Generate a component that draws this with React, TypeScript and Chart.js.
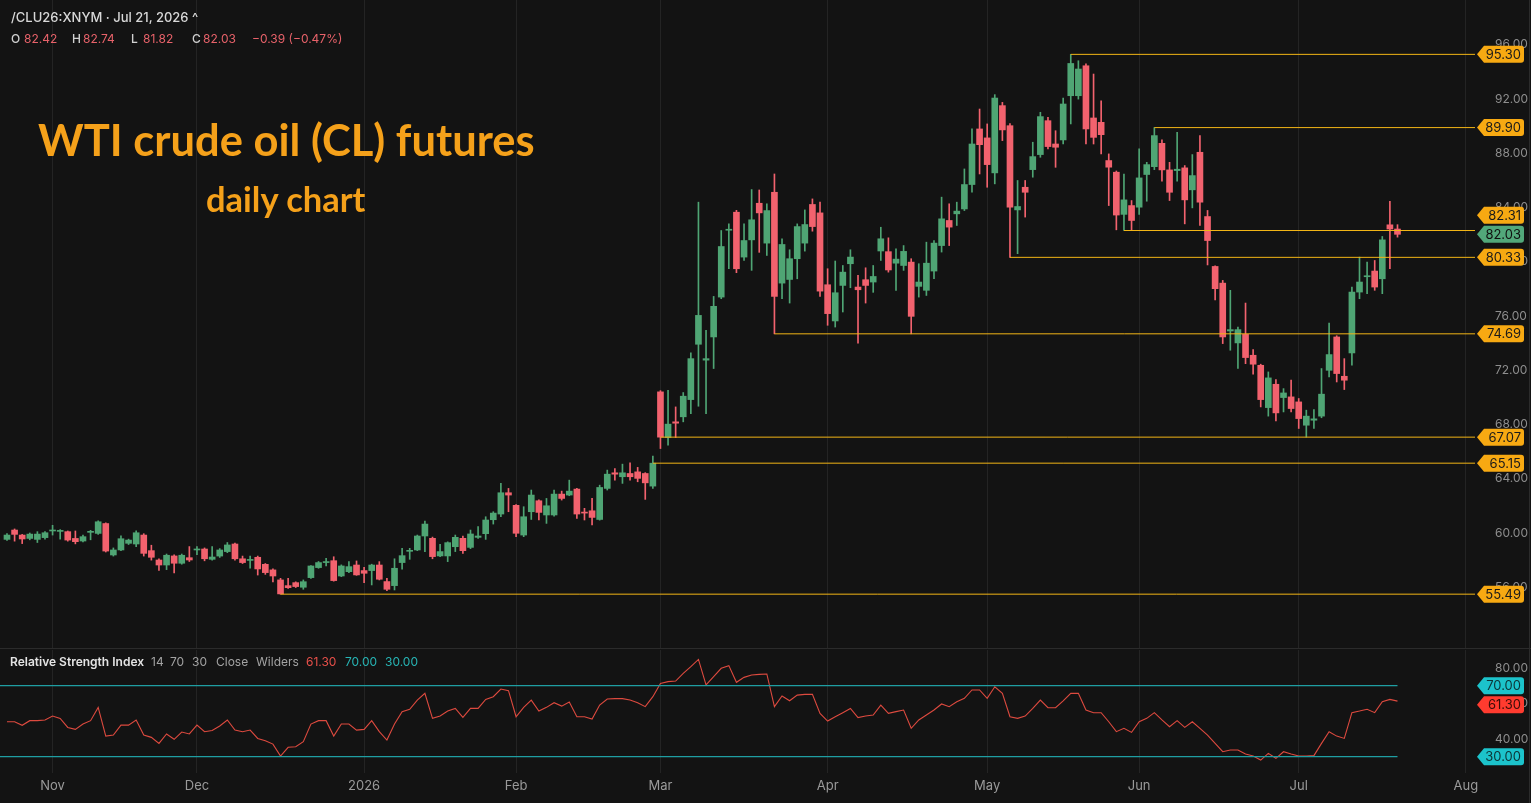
import React, { useEffect, useRef } from "react";
import { Chart, registerables } from "chart.js";
Chart.register(...registerables);

// ---- Data ----
const opens = [
  59.53, 60.22, 59.85, 59.60, 59.53, 59.66, 60.15, 60.12, 60.10, 59.60,
  59.41, 60.05, 59.97, 60.70, 58.38, 58.75, 59.24, 59.19, 59.85, 58.70,
  58.01, 57.64, 58.31, 57.77, 58.18, 58.75, 58.82, 58.06, 58.30, 58.63,
  59.19, 58.10, 57.98, 58.21, 57.69, 57.28, 56.54, 56.12, 56.34, 56.00,
  56.71, 57.45, 57.82, 57.96, 56.83, 57.15, 57.64, 57.23, 57.23, 57.64,
  56.42, 56.12, 57.82, 58.65, 58.75, 59.78, 59.61, 58.31, 58.31, 58.99,
  59.61, 58.94, 59.68, 59.95, 60.98, 61.40, 62.97, 62.04, 59.85, 61.57,
  62.38, 61.33, 61.33, 62.87, 62.80, 63.24, 61.52, 61.64, 61.00, 63.29,
  64.44, 64.15, 64.39, 64.51, 64.39, 63.46, 70.41, 67.04, 68.20, 68.57,
  69.84, 73.92, 72.75, 74.46, 77.40, 82.33, 83.66, 80.35, 81.62, 84.32,
  81.38, 85.13, 78.43, 78.70, 80.23, 81.38, 84.23, 83.61, 78.31, 75.64,
  78.26, 79.86, 78.14, 78.68, 78.51, 80.80, 80.75, 79.90, 79.73, 79.98,
  78.19, 77.90, 79.32, 81.20, 83.05, 83.54, 83.90, 85.70, 89.80, 89.14,
  86.56, 91.52, 90.04, 83.83, 85.50, 86.80, 87.91, 90.41, 88.69, 88.99,
  92.25, 92.25, 94.46, 90.61, 90.29, 87.47, 86.61, 83.50, 84.15, 84.03,
  86.44, 87.02, 88.74, 86.78, 86.73, 86.93, 85.31, 88.08, 83.34, 79.66,
  78.43, 74.90, 74.02, 74.65, 73.11, 72.37, 69.25, 70.97, 69.99, 70.04,
  69.67, 67.95, 68.32, 68.62, 72.00, 74.46, 71.56, 73.28, 77.77, 78.90,
  79.32, 78.75, 82.73, 82.42,
];
const highs = [
  59.95, 60.30, 59.90, 60.00, 60.10, 60.10, 60.57, 60.25, 60.15, 60.15,
  59.85, 60.20, 60.90, 60.75, 58.90, 59.80, 59.55, 60.17, 59.95, 59.10,
  58.10, 58.45, 58.40, 58.45, 59.00, 59.00, 58.90, 59.00, 58.85, 59.30,
  59.25, 58.30, 58.30, 58.30, 57.75, 57.35, 56.66, 56.66, 56.40, 56.54,
  57.60, 57.90, 58.13, 58.25, 57.65, 57.89, 57.94, 57.47, 57.70, 57.89,
  56.66, 58.10, 58.87, 58.87, 59.85, 60.88, 59.70, 59.17, 59.35, 59.85,
  59.78, 60.22, 60.47, 61.20, 61.57, 63.66, 63.29, 62.10, 61.94, 63.17,
  62.45, 62.55, 63.17, 63.09, 63.90, 63.30, 61.82, 62.55, 63.53, 64.64,
  64.76, 65.08, 65.18, 64.84, 64.45, 65.67, 70.50, 70.53, 69.30, 70.36,
  73.28, 84.40, 74.95, 77.45, 82.31, 82.80, 83.80, 82.80, 85.33, 85.30,
  84.28, 86.48, 81.70, 80.89, 82.80, 83.83, 84.64, 84.40, 79.49, 80.06,
  79.73, 80.89, 79.00, 79.56, 79.73, 82.55, 81.77, 80.96, 81.20, 80.23,
  79.86, 81.45, 81.57, 84.77, 84.28, 84.40, 86.85, 89.80, 91.27, 90.17,
  92.33, 91.76, 90.20, 86.00, 86.00, 88.82, 91.03, 90.66, 89.67, 92.08,
  95.30, 94.83, 94.60, 93.85, 91.88, 87.96, 86.70, 86.48, 84.52, 88.33,
  87.34, 89.90, 88.99, 87.34, 89.55, 87.10, 87.91, 89.31, 83.79, 79.70,
  78.63, 77.90, 75.19, 76.96, 73.52, 72.45, 71.88, 71.32, 70.65, 71.27,
  69.92, 69.06, 69.10, 72.13, 75.49, 74.55, 72.86, 78.14, 80.35, 79.98,
  80.10, 81.87, 84.47, 82.74,
];
const lows = [
  59.45, 59.40, 59.22, 59.50, 59.30, 59.55, 59.85, 59.55, 59.40, 59.20,
  59.35, 59.50, 59.90, 58.60, 58.30, 58.70, 59.15, 59.00, 58.30, 58.00,
  57.25, 57.30, 57.05, 57.70, 57.90, 58.40, 57.95, 58.00, 58.20, 58.55,
  58.00, 57.75, 57.40, 56.90, 56.95, 56.40, 55.49, 55.92, 55.98, 55.85,
  56.65, 57.40, 57.57, 56.45, 56.78, 57.08, 56.88, 56.34, 56.17, 56.54,
  55.75, 55.80, 57.33, 58.06, 58.70, 58.63, 58.10, 58.26, 57.89, 58.63,
  58.50, 58.85, 59.61, 59.53, 60.66, 61.20, 61.57, 59.73, 59.73, 61.00,
  60.96, 60.71, 61.25, 62.43, 62.75, 61.08, 60.96, 60.59, 60.95, 63.17,
  63.90, 63.66, 63.90, 63.78, 62.48, 63.29, 66.23, 66.48, 67.04, 68.20,
  68.81, 69.35, 68.81, 72.13, 77.28, 79.49, 79.20, 80.10, 79.37, 80.70,
  80.47, 74.69, 77.28, 76.96, 78.75, 80.79, 82.26, 77.45, 75.32, 75.19,
  76.30, 78.09, 74.00, 76.96, 77.75, 80.10, 79.24, 77.90, 79.37, 74.69,
  77.40, 77.52, 78.75, 80.72, 81.20, 82.68, 83.78, 85.13, 86.48, 85.50,
  85.75, 88.94, 80.33, 80.60, 83.30, 86.24, 87.71, 88.33, 86.97, 88.69,
  90.17, 92.00, 88.69, 88.69, 87.96, 84.15, 82.36, 82.31, 82.31, 83.50,
  84.47, 86.80, 85.94, 84.52, 85.94, 82.80, 83.98, 82.68, 79.77, 77.20,
  73.97, 73.48, 72.13, 72.49, 71.71, 69.30, 68.62, 68.27, 68.93, 68.93,
  67.71, 67.07, 67.71, 68.50, 71.51, 71.14, 70.58, 72.37, 77.28, 77.65,
  77.90, 77.65, 79.49, 81.82,
];
const closes = [
  59.85, 59.90, 59.56, 59.92, 59.92, 60.02, 60.20, 60.17, 59.48, 59.36,
  59.73, 60.12, 60.83, 58.67, 58.75, 59.58, 59.48, 60.02, 58.50, 58.21,
  57.64, 58.36, 57.77, 58.36, 58.01, 58.82, 58.10, 58.23, 58.75, 59.12,
  58.10, 57.82, 58.05, 57.35, 57.08, 56.83, 55.51, 55.97, 56.05, 56.41,
  57.57, 57.82, 57.88, 56.49, 57.57, 57.52, 56.91, 57.03, 57.64, 56.59,
  55.85, 57.40, 58.33, 58.72, 59.78, 60.66, 58.26, 58.63, 59.29, 59.68,
  58.70, 59.93, 59.78, 60.96, 61.47, 62.97, 62.80, 59.98, 61.20, 62.80,
  61.52, 62.01, 62.87, 62.55, 63.09, 61.40, 61.47, 61.15, 63.36, 64.34,
  64.34, 64.44, 64.15, 64.03, 63.70, 65.15, 67.07, 68.03, 68.10, 70.09,
  72.86, 76.05, 72.86, 76.72, 81.13, 82.40, 79.49, 81.57, 83.10, 83.61,
  83.78, 77.45, 81.28, 80.23, 82.60, 82.75, 82.60, 77.84, 76.18, 77.72,
  79.24, 80.35, 77.94, 78.26, 78.92, 81.70, 79.40, 80.20, 80.77, 75.98,
  78.51, 79.90, 81.38, 83.17, 82.56, 83.74, 85.70, 88.69, 88.64, 87.17,
  92.08, 89.73, 84.03, 84.08, 85.13, 87.76, 90.71, 88.50, 88.45, 91.64,
  94.63, 94.22, 89.80, 89.18, 89.38, 86.98, 83.45, 84.57, 83.05, 86.19,
  87.17, 89.31, 86.78, 85.13, 86.83, 84.57, 86.36, 84.40, 81.57, 78.02,
  74.46, 75.00, 75.00, 72.94, 72.45, 69.84, 71.44, 68.86, 70.33, 69.18,
  68.44, 68.62, 68.42, 70.24, 73.16, 71.76, 71.27, 77.77, 78.51, 78.95,
  78.14, 81.62, 82.42, 82.03,
];
const rsiValues = [
  49.7, 49.7, 47.7, 50.3, 50.3, 50.7, 52.9, 51.6, 46.5, 45.4,
  48.4, 50.3, 57.8, 41.6, 42.2, 47.8, 47.8, 50.7, 42.2, 40.9,
  37.5, 42.8, 39.8, 43.9, 42.8, 47.8, 44.1, 44.8, 47.3, 50.7,
  45.0, 44.1, 45.0, 40.3, 39.0, 37.1, 30.4, 35.3, 35.6, 38.5,
  48.4, 50.3, 50.3, 41.6, 48.4, 48.4, 45.0, 45.4, 50.3, 44.1,
  39.4, 48.4, 55.4, 56.7, 61.9, 65.7, 51.6, 52.9, 55.7, 57.2,
  52.2, 57.2, 57.2, 62.3, 63.8, 68.1, 67.2, 52.5, 57.8, 61.9,
  55.7, 57.8, 60.4, 58.5, 60.8, 52.5, 52.5, 51.2, 59.1, 62.5,
  62.7, 62.7, 61.9, 60.4, 58.2, 63.8, 71.3, 72.3, 72.6, 76.9,
  80.7, 84.8, 70.4, 75.1, 79.8, 81.3, 71.9, 74.7, 76.0, 76.4,
  76.6, 58.2, 64.2, 61.5, 64.7, 65.1, 65.1, 54.4, 50.1, 52.5,
  54.8, 57.2, 52.0, 52.9, 53.5, 59.1, 54.4, 55.4, 56.3, 46.0,
  50.7, 53.5, 56.3, 59.7, 58.2, 61.0, 62.9, 67.6, 67.6, 62.9,
  69.4, 65.7, 52.5, 51.6, 52.9, 57.2, 61.9, 57.6, 57.6, 61.5,
  65.7, 65.7, 56.3, 54.8, 54.8, 49.7, 44.1, 46.0, 43.7, 49.7,
  51.6, 54.8, 50.7, 46.9, 50.3, 46.5, 49.7, 46.0, 42.2, 37.5,
  32.8, 33.8, 33.8, 31.5, 30.4, 28.1, 31.9, 29.1, 32.8, 31.5,
  30.4, 30.4, 30.6, 37.5, 44.1, 41.6, 40.3, 54.8, 55.7, 56.7,
  54.8, 61.0, 62.3, 61.3,
];

const monthTickIndex = [6, 25, 47, 67, 86, 108, 129, 149, 170, 192];
const monthTickLabels = ["Nov", "Dec", "2026", "Feb", "Mar", "Apr", "May", "Jun", "Jul", "Aug"];
const priceTicks = [56, 60, 64, 68, 72, 76, 80, 84, 88, 92, 96];
const rsiTicks = [40, 60, 80];
const levelValues = [95.30, 89.90, 82.31, 80.33, 74.69, 67.07, 65.15, 55.49];
const levelStartIndex = [140, 151, 147, 132, 101, 86, 85, 36];
const lastPrice = 82.03;
const rsiLast = 61.30;
const rsiBands = [70, 30];

// ---- Styles / layout constants ----
const BG = "#131313";
const GREEN = "#4fa574";
const RED = "#f2626e";
const ORANGE_LINE = "#f2b516";
const ORANGE_TAG = "#f7a912";
const GREEN_TAG = "#52a87a";
const TEAL_LINE = "#1f9ea2";
const TEAL_TAG = "#1cc3cb";
const RSI_RED = "#dd4a3f";
const RSI_TAG = "#ff3b2f";
const GRID = "rgba(255,255,255,0.075)";
const AXIS_TEXT = "#8e8e8e";
const X_MIN = -0.92;
const X_MAX = 193.2;
const AXIS_W = 56;
const TAG_GAP = 19;

function drawTag(ctx: CanvasRenderingContext2D, x0: number, y: number, text: string, bg: string, fg: string) {
  const left = x0 + 2, tip = 7, right = x0 + 49, h = 17, r = 3;
  ctx.save();
  ctx.beginPath();
  ctx.moveTo(left, y);
  ctx.lineTo(left + tip, y - h / 2);
  ctx.lineTo(right - r, y - h / 2);
  ctx.quadraticCurveTo(right, y - h / 2, right, y - h / 2 + r);
  ctx.lineTo(right, y + h / 2 - r);
  ctx.quadraticCurveTo(right, y + h / 2, right - r, y + h / 2);
  ctx.lineTo(left + tip, y + h / 2);
  ctx.closePath();
  ctx.fillStyle = bg;
  ctx.fill();
  ctx.fillStyle = fg;
  ctx.font = "13px Inter, sans-serif";
  ctx.textAlign = "right";
  ctx.textBaseline = "middle";
  ctx.fillText(text, right - 3, y + 0.5);
  ctx.restore();
}

const Txt = (p: { x: number; y: number; size?: number; color: string; weight?: number; children: React.ReactNode }) => (
  <span
    style={{
      position: "absolute",
      left: p.x,
      top: p.y,
      fontSize: p.size ?? 12,
      lineHeight: "14px",
      color: p.color,
      fontWeight: p.weight ?? 400,
      fontFamily: "Inter, sans-serif",
      whiteSpace: "nowrap",
    }}
  >
    {p.children}
  </span>
);

const zeroPad = (s: any) => {
  s.paddingTop = 0;
  s.paddingBottom = 0;
  s.paddingLeft = 0;
  s.paddingRight = 0;
};

export default function App() {
  const priceRef = useRef<HTMLCanvasElement>(null);
  const rsiRef = useRef<HTMLCanvasElement>(null);

  useEffect(() => {
    const idx = opens.map((_, i) => i);
    const bodies = idx.map((i) => ({ x: i, y: [opens[i], closes[i]] }));
    const wicks = idx.map((i) => ({ x: i, y: [lows[i], highs[i]] }));
    const candleColor = (c: any) => (closes[c.dataIndex] >= opens[c.dataIndex] ? GREEN : RED);

    const levelSets = levelValues.map((v, k) => ({
      type: "line" as const,
      data: [
        { x: levelStartIndex[k], y: v },
        { x: X_MAX, y: v },
      ],
      borderColor: ORANGE_LINE,
      borderWidth: 1,
      pointRadius: 0,
      order: 0,
    }));

    const xGridScale = (showLabels: boolean, height: number) => ({
      type: "linear" as const,
      min: X_MIN,
      max: X_MAX,
      offset: false,
      border: { display: false },
      grid: { display: true, color: GRID, drawTicks: false, offset: false },
      afterBuildTicks: (s: any) => {
        s.ticks = monthTickIndex.map((v) => ({ value: v }));
      },
      afterFit: (s: any) => {
        s.height = height;
        zeroPad(s);
      },
      ticks: {
        display: showLabels,
        autoSkip: false,
        maxRotation: 0,
        padding: 5,
        color: "#9a9a9a",
        font: { family: "Inter, sans-serif", size: 13 },
        callback: (v: any) => {
          const k = monthTickIndex.indexOf(Number(v));
          return k >= 0 ? monthTickLabels[k] : "";
        },
      },
    });

    const yScale = (min: number, max: number, ticks: number[]) => ({
      type: "linear" as const,
      position: "right" as const,
      min,
      max,
      border: { display: false },
      grid: { display: false },
      afterBuildTicks: (s: any) => {
        s.ticks = ticks.map((v) => ({ value: v }));
      },
      afterFit: (s: any) => {
        s.width = AXIS_W;
        zeroPad(s);
      },
      ticks: {
        autoSkip: false,
        padding: 12,
        color: AXIS_TEXT,
        font: { family: "Inter, sans-serif", size: 12 },
        callback: (v: any) => Number(v).toFixed(2),
      },
    });

    const priceTagPlugin = {
      id: "priceTags",
      afterDraw(chart: any) {
        const ys = chart.scales.y;
        const ctx = chart.ctx;
        const x0 = chart.chartArea.right;
        const yCur = ys.getPixelForValue(lastPrice);
        levelValues.forEach((v) => {
          let py = ys.getPixelForValue(v);
          if (Math.abs(py - yCur) < TAG_GAP) py = py <= yCur ? yCur - TAG_GAP : yCur + TAG_GAP;
          drawTag(ctx, x0, py, v.toFixed(2), ORANGE_TAG, "#1a1a1a");
        });
        drawTag(ctx, x0, yCur, lastPrice.toFixed(2), GREEN_TAG, "#0f0f0f");
      },
    };

    const priceChart = new Chart(priceRef.current as HTMLCanvasElement, {
      type: "bar",
      data: {
        datasets: [
          ...levelSets,
          {
            type: "bar",
            data: bodies as any,
            backgroundColor: candleColor,
            barThickness: 6,
            minBarLength: 1,
            grouped: false,
            order: 1,
          },
          {
            type: "bar",
            data: wicks as any,
            backgroundColor: candleColor,
            barThickness: 1,
            grouped: false,
            order: 2,
          },
        ] as any,
      },
      options: {
        animation: false,
        responsive: false,
        devicePixelRatio: 1,
        events: [],
        layout: { padding: 0 },
        plugins: { legend: { display: false }, tooltip: { enabled: false } },
        scales: {
          x: xGridScale(false, 1) as any,
          y: yScale(51.52, 99.31, priceTicks) as any,
        },
      },
      plugins: [priceTagPlugin],
    });

    const rsiTagPlugin = {
      id: "rsiTags",
      afterDraw(chart: any) {
        const ys = chart.scales.y;
        const ctx = chart.ctx;
        const x0 = chart.chartArea.right;
        const bandY = rsiBands.map((b) => ys.getPixelForValue(b));
        let vy = ys.getPixelForValue(rsiLast);
        bandY.forEach((by) => {
          if (Math.abs(vy - by) < TAG_GAP) vy = vy >= by ? by + TAG_GAP : by - TAG_GAP;
        });
        rsiBands.forEach((b, k) => drawTag(ctx, x0, bandY[k], b.toFixed(2), TEAL_TAG, "#0d3436"));
        drawTag(ctx, x0, vy, rsiLast.toFixed(2), RSI_TAG, "#3a0c08");
      },
    };

    const rsiChart = new Chart(rsiRef.current as HTMLCanvasElement, {
      type: "line",
      data: {
        datasets: [
          ...rsiBands.map((b) => ({
            data: [
              { x: X_MIN, y: b },
              { x: idx.length - 1, y: b },
            ],
            borderColor: TEAL_LINE,
            borderWidth: 1.3,
            pointRadius: 0,
          })),
          {
            data: rsiValues.map((v, i) => ({ x: i, y: v })),
            borderColor: RSI_RED,
            borderWidth: 1.1,
            pointRadius: 0,
            tension: 0,
          },
        ] as any,
      },
      options: {
        animation: false,
        responsive: false,
        devicePixelRatio: 1,
        events: [],
        layout: { padding: { top: 1 } },
        plugins: { legend: { display: false }, tooltip: { enabled: false } },
        scales: {
          x: xGridScale(true, 30) as any,
          y: yScale(20.82, 90.11, rsiTicks) as any,
        },
      },
      plugins: [rsiTagPlugin],
    });

    return () => {
      priceChart.destroy();
      rsiChart.destroy();
    };
  }, []);

  return (
    <div
      style={{
        position: "fixed",
        left: 0,
        top: 0,
        width: 1531,
        height: 803,
        background: BG,
        overflow: "hidden",
      }}
    >
      <canvas ref={priceRef} width={1531} height={649} style={{ position: "absolute", left: 0, top: 0 }} />
      <canvas ref={rsiRef} width={1531} height={154} style={{ position: "absolute", left: 0, top: 649 }} />
      <div style={{ position: "absolute", left: 0, top: 648, width: 1531, height: 1, background: "#2b2b2b" }} />
      <div style={{ position: "absolute", left: 1529, top: 0, width: 1, height: 803, background: "#2b2b2b" }} />

      <Txt x={11} y={10} size={13} color="#d8d8d8" weight={500}>/CLU26:XNYM · Jul 21, 2026 ^</Txt>
      <Txt x={11} y={32} color="#d0d0d0" weight={500}>O</Txt>
      <Txt x={24} y={32} color="#e8626a">82.42</Txt>
      <Txt x={72} y={32} color="#d0d0d0" weight={500}>H</Txt>
      <Txt x={83} y={32} color="#e8626a">82.74</Txt>
      <Txt x={131} y={32} color="#d0d0d0" weight={500}>L</Txt>
      <Txt x={143} y={32} color="#e8626a">81.82</Txt>
      <Txt x={192} y={32} color="#d0d0d0" weight={500}>C</Txt>
      <Txt x={203} y={32} color="#e8626a">82.03</Txt>
      <Txt x={252} y={32} color="#e8626a">−0.39 (−0.47%)</Txt>

      <div
        style={{
          position: "absolute",
          left: 38,
          top: 117,
          fontFamily: "Lato, sans-serif",
          fontWeight: 700,
          fontSize: 43.5,
          lineHeight: "44px",
          color: "#f5a11a",
          whiteSpace: "nowrap",
        }}
      >
        WTI crude oil (CL) futures
      </div>
      <div
        style={{
          position: "absolute",
          left: 206,
          top: 182,
          fontFamily: "Lato, sans-serif",
          fontWeight: 700,
          fontSize: 34.5,
          lineHeight: "34px",
          color: "#f5a11a",
          whiteSpace: "nowrap",
        }}
      >
        daily chart
      </div>

      <Txt x={10} y={655} color="#e4e4e4" weight={600}>Relative Strength Index</Txt>
      <Txt x={151} y={655} color="#a3a3a3">14</Txt>
      <Txt x={170} y={655} color="#a3a3a3">70</Txt>
      <Txt x={192} y={655} color="#a3a3a3">30</Txt>
      <Txt x={216} y={655} color="#a3a3a3">Close</Txt>
      <Txt x={256} y={655} color="#a3a3a3">Wilders</Txt>
      <Txt x={306} y={655} color="#e8504a">61.30</Txt>
      <Txt x={345} y={655} color="#27b5b5">70.00</Txt>
      <Txt x={385} y={655} color="#27b5b5">30.00</Txt>
    </div>
  );
}
